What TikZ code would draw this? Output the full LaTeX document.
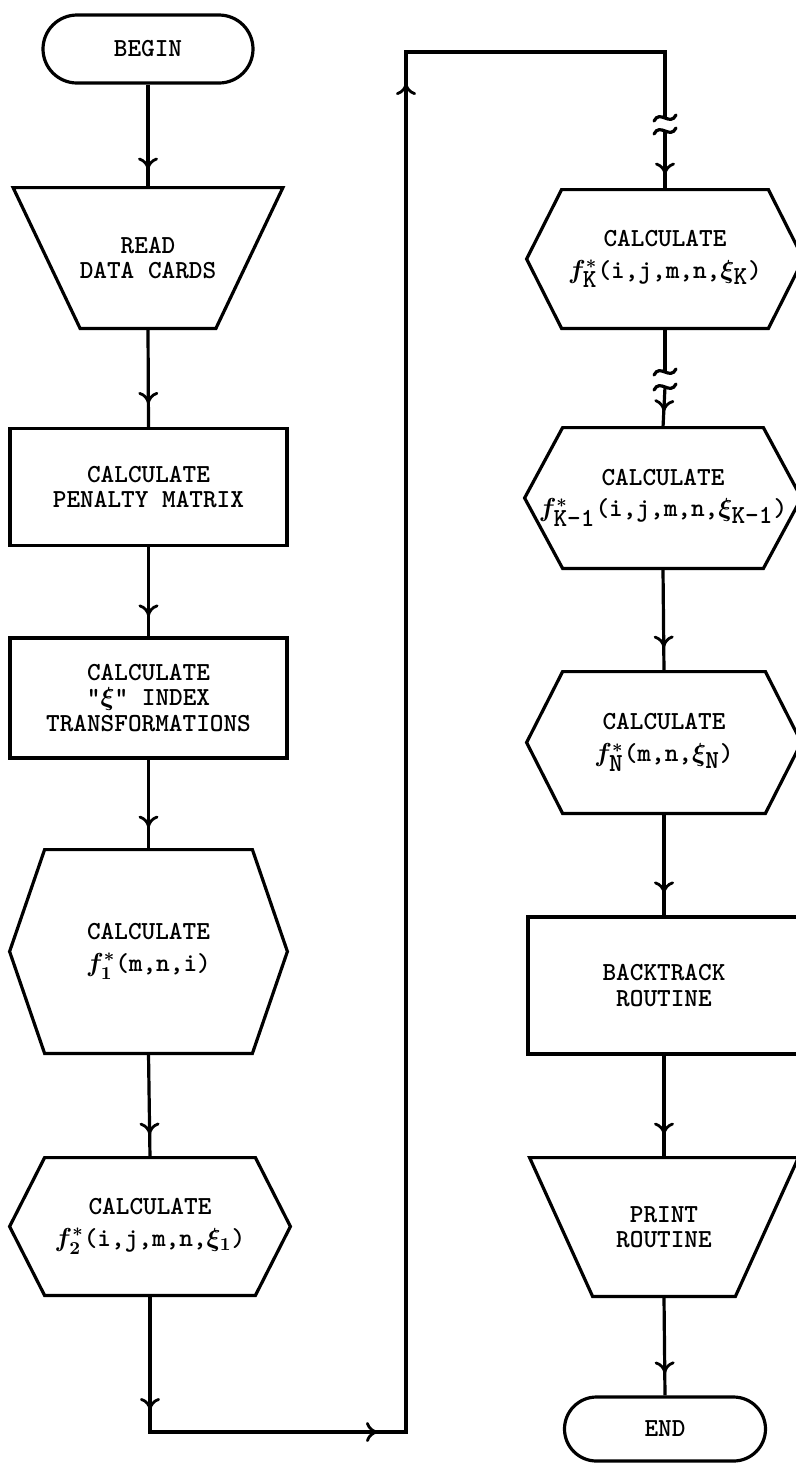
\RequirePackage{fix-cm}
\documentclass[tikz,border=0pt]{standalone}
\usetikzlibrary{arrows.meta,decorations.markings}
\newcommand\trapezoutline[2]{\draw[ln] (#1.north west) -- (#1.north east) -- ([xshift=-#2]#1.south east) -- ([xshift=#2]#1.south west) -- cycle;}
\newcommand\hexoutline[2]{\draw[ln] ([xshift=#2]#1.north west) -- ([xshift=-#2]#1.north east) -- (#1.east) -- ([xshift=-#2]#1.south east) -- ([xshift=#2]#1.south west) -- (#1.west) -- cycle;}
\begin{document}
\begin{tikzpicture}[x=0.5pt,y=-0.5pt,
  every node/.style={font=\fontsize{13}{12.8}\selectfont\ttfamily\bfseries\boldmath, align=center, inner sep=0pt},
  ln/.style={line width=1.6pt, line join=miter},
  term/.style={draw, ln},
  procbox/.style={draw, ln},
  ghost/.style={draw=none},
  flow/.style={ln, postaction={decorate}, decoration={markings, mark=at position #1 with {\arrow{Computer Modern Rightarrow[length=6pt,width=10pt,line width=1.4pt]}}}},
  flow/.default=-10.5pt,
  brk/.pic={\draw[line width=1.6pt, line cap=round] (-11,3) .. controls (-5,-9) and (5,9) .. (11,-3);}
]
\useasboundingbox (0,0) rectangle (796,1464);

% left column
\node[term, rounded corners=17pt, minimum width=105pt, minimum height=34pt] (begin) at (148,49) {BEGIN};
\node[ghost, minimum width=134.5pt, minimum height=70pt] (read) at (148,258) {READ\\DATA CARDS};
\trapezoutline{read}{33.5pt}
\node[procbox, minimum width=138.5pt, minimum height=58.5pt] (penalty) at (148.5,487) {CALCULATE\\PENALTY MATRIX};
\node[procbox, minimum width=138.5pt, minimum height=60pt] (index) at (148.5,698) {CALCULATE\\"$\xi$" INDEX\\TRANSFORMATIONS};
\node[ghost, minimum width=138.5pt, minimum height=101.5pt] (fone) at (148.5,951.5) {CALCULATE\\[3pt]$f^{*}_{1}$(m,n,i)};
\hexoutline{fone}{17.5pt}
\node[ghost, minimum width=140pt, minimum height=68.5pt] (ftwo) at (150,1226.5) {CALCULATE\\[3pt]$f^{*}_{2}$(i,j,m,n,$\xi_{1}$)};
\hexoutline{ftwo}{17.5pt}

% right column
\node[ghost, minimum width=138pt, minimum height=69pt] (fk) at (665,259) {CALCULATE\\[3pt]$f^{*}_{\texttt{K}}$(i,j,m,n,$\xi_{\texttt{K}}$)};
\hexoutline{fk}{17.5pt}
\node[ghost, minimum width=138pt, minimum height=70pt] (fkm) at (663,498) {CALCULATE\\[3pt]$f^{*}_{\texttt{K-1}}$(i,j,m,n,$\xi_{\texttt{K-1}}$)};
\hexoutline{fkm}{19pt}
\node[ghost, minimum width=137pt, minimum height=70.5pt] (fn) at (664,742.5) {CALCULATE\\[3pt]$f^{*}_{\texttt{N}}$(m,n,$\xi_{\texttt{N}}$)};
\hexoutline{fn}{18pt}
\node[procbox, minimum width=136pt, minimum height=68.5pt] (back) at (664,985.5) {BACKTRACK\\ROUTINE};
\node[ghost, minimum width=134pt, minimum height=69pt] (print) at (664,1227) {PRINT\\ROUTINE};
\trapezoutline{print}{31.5pt}
\node[term, rounded corners=16pt, minimum width=100.5pt, minimum height=32pt] (end) at (665,1429) {END};

% helper coordinates
\coordinate (c1) at (ftwo.south |- 0,1432);
\coordinate (c2) at (406,1432);
\coordinate (c3) at (406,52);
\coordinate (c4) at (fk.north |- 0,52);
\coordinate (b1a) at (fk.north |- 0,118);
\coordinate (b1b) at (fk.north |- 0,131);
\coordinate (b2a) at (fk.south |- 0,372);
\coordinate (b2b) at (fk.south |- 0,387);

% connectors left
\draw[flow=-9pt] (begin.south) -- (read.north);
\draw[flow=-11.5pt] (read.south) -- (penalty.north);
\draw[flow=-10pt] (penalty.south) -- (index.north);
\draw[flow=-11pt] (index.south) -- (fone.north);
\draw[flow=-11.5pt] (fone.south) -- (ftwo.north);

% loop connector
\draw[flow=-11pt, line cap=rect] (ftwo.south) -- (c1);
\draw[flow=-14pt, line cap=rect] (c1) -- (c2);
\draw[flow=-15.5pt, line cap=rect] (c2) -- (c3);
\draw[ln] (c3) -- (c4) -- (b1a);
\pic at (b1a) {brk};
\pic at (b1b) {brk};
\draw[flow=-7.5pt] (b1b) -- (fk.north);

% connectors right
\draw[ln] (fk.south) -- (b2a);
\pic at (b2a) {brk};
\pic at (b2b) {brk};
\draw[flow=-8pt] (b2b) -- (fkm.north);
\draw[flow=-12pt] (fkm.south) -- (fn.north);
\draw[flow=-11pt] (fn.south) -- (back.north);
\draw[flow=-11.5pt] (back.south) -- (print.north);
\draw[flow=-11pt] (print.south) -- (end.north);
\end{tikzpicture}
\end{document}
